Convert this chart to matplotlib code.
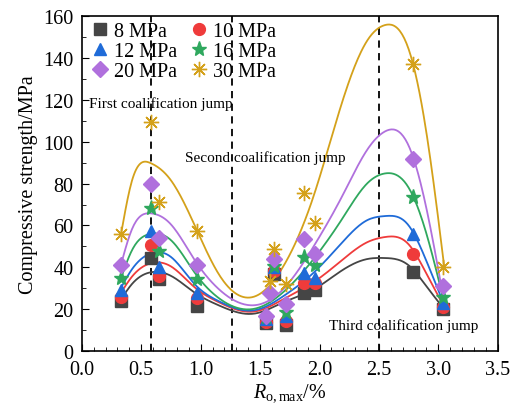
import numpy as np
import matplotlib
matplotlib.use("Agg")
import matplotlib.pyplot as plt
from matplotlib.ticker import MultipleLocator

plt.rcParams['font.family'] = ['Liberation Serif', 'DejaVu Serif']
plt.rcParams['mathtext.fontset'] = 'custom'
plt.rcParams['mathtext.rm'] = 'Liberation Serif'
plt.rcParams['mathtext.it'] = 'Liberation Serif:italic'

# measured strengths at each vitrinite reflectance
ro = [0.33, 0.58, 0.65, 0.97, 1.55, 1.58, 1.62, 1.72, 1.87, 1.96, 2.79, 3.04]
nan = np.nan
s8 = [24, 44.7, 34.5, 21.6, 13.4, nan, 36.7, 12.5, 28, 29.5, 38, 20]
s10 = [26, 50.6, 36, 25.6, 14, nan, 38.3, 14.5, 32.8, 32.8, 46.6, 21]
s12 = [29.5, 57.4, 40, 28, 15.3, nan, 40, 16.8, 37.5, 35.2, 56.1, 23]
s16 = [34.8, 68.5, 47.8, 34.7, 16.5, nan, 40.5, 18.6, 45, 41, 73.5, 26]
s20 = [41.2, 79.7, 54.2, 41, 16.8, 28, 44.2, 22.4, 53.8, 46.6, 91.6, 31]
s30 = [55.8, 109.4, 71, 57.4, nan, 33.5, 49, 32.3, 75.7, 61, 136.8, 40]

# fitted trend curves, sampled along reflectance
fit_ro = [0.33, 0.42, 0.58, 0.75, 0.95, 1.15, 1.45, 1.70, 1.95, 2.20, 2.40, 2.55, 2.75, 2.90, 3.05]
f8 = [24.8, 32, 37.7, 36, 28, 22, 18, 23.5, 29.5, 39, 44, 44.5, 41, 31, 20]
f10 = [28, 35.5, 42, 40.5, 30.5, 23.5, 19, 25, 33, 44, 52, 54.5, 51, 37, 21]
f12 = [30.4, 39, 46.7, 45, 32, 24, 19.6, 26.5, 37.5, 52.5, 62.5, 64.5, 60, 43, 22]
f16 = [35, 48, 56, 53, 37.5, 25.5, 20.3, 28.5, 44, 64, 80, 84.8, 78, 56, 23]
f20 = [41.5, 58, 65.8, 60.5, 43.5, 29.8, 22, 30, 50, 75, 96, 104.8, 98, 68, 23]
f30 = [56, 81, 89.7, 81.5, 60, 37, 26.1, 41, 74, 120.5, 148, 155.5, 144, 104, 40]

labels = ['8 MPa', '10 MPa', '12 MPa', '16 MPa', '20 MPa', '30 MPa']
jumps = [0.58, 1.26, 2.50]


def spline(xk, yk, n=300):
    # natural cubic spline through the knots
    xk = np.asarray(xk, float)
    yk = np.asarray(yk, float)
    m = len(xk)
    h = np.diff(xk)
    A = np.zeros((m, m))
    b = np.zeros(m)
    A[0, 0] = A[-1, -1] = 1
    for i in range(1, m - 1):
        A[i, i - 1] = h[i - 1]
        A[i, i] = 2 * (h[i - 1] + h[i])
        A[i, i + 1] = h[i]
        b[i] = 3 * ((yk[i + 1] - yk[i]) / h[i] - (yk[i] - yk[i - 1]) / h[i - 1])
    c = np.linalg.solve(A, b)
    xs = np.linspace(xk[0], xk[-1], n)
    idx = np.clip(np.searchsorted(xk, xs) - 1, 0, m - 2)
    dx = xs - xk[idx]
    bb = (yk[idx + 1] - yk[idx]) / h[idx] - h[idx] * (2 * c[idx] + c[idx + 1]) / 3
    dd = (c[idx + 1] - c[idx]) / (3 * h[idx])
    ys = yk[idx] + bb * dx + c[idx] * dx ** 2 + dd * dx ** 3
    return xs, ys


fig, ax = plt.subplots(figsize=(5.18, 4.06), dpi=100)
fig.subplots_adjust(left=0.158, right=0.961, bottom=0.132, top=0.959)

for xj in jumps:
    ax.axvline(xj, color='black', ls=(0, (4, 3)), lw=1.3, zorder=1)

series = [
    (s8, f8, '#454545', 's', 8),
    (s10, f10, '#ef3b3b', 'o', 8.5),
    (s12, f12, '#1f6bd8', '^', 9),
    (s16, f16, '#2fa85e', '*', 11),
    (s20, f20, '#b070dd', 'D', 8),
    (s30, f30, '#d4a11a', (8, 2, 0), 11),
]

handles = []
for (pts, fit, col, mk, ms), lab in zip(series, labels):
    xs, ys = spline(fit_ro, fit)
    ax.plot(xs, ys, color=col, lw=1.3, zorder=2)
    h, = ax.plot(ro, pts, ls='none', marker=mk, ms=ms, color=col,
                 mec=col, mew=1.0, label=lab, zorder=3)
    handles.append(h)

order = [0, 2, 4, 1, 3, 5]
ax.legend([handles[i] for i in order], [labels[i] for i in order],
          loc='upper left', ncol=2, frameon=False, fontsize=14.5,
          handletextpad=0.1, columnspacing=0.5, labelspacing=0.05,
          handlelength=1.2, borderaxespad=0.2, borderpad=0.1)

ax.text(0.06, 118.5, 'First coalification jump', fontsize=11, va='center')
ax.text(1.54, 92.5, 'Second coalification jump', fontsize=11, va='center', ha='center')
ax.text(2.71, 12.4, 'Third coalification jump', fontsize=11, va='center', ha='center')

ax.set_xlim(0, 3.5)
ax.set_ylim(0, 160)
ax.xaxis.set_major_locator(MultipleLocator(0.5))
ax.xaxis.set_minor_locator(MultipleLocator(0.1))
ax.yaxis.set_major_locator(MultipleLocator(20))
ax.yaxis.set_minor_locator(MultipleLocator(10))
ax.xaxis.set_major_formatter(plt.FormatStrFormatter('%.1f'))
ax.tick_params(which='both', direction='in', labelsize=14.5)
ax.tick_params(axis='x', which='major', pad=6)
ax.tick_params(axis='y', which='major', pad=6)
ax.tick_params(which='major', length=5)
ax.tick_params(which='minor', length=3)
for sp in ax.spines.values():
    sp.set_linewidth(1.2)

ax.set_xlabel(r'$R_{\mathrm{o,max}}$/%', fontsize=14.5, labelpad=2)
ax.set_ylabel('Compressive strength/MPa', fontsize=14.5, labelpad=4)

fig.savefig('out.png', dpi=100)
